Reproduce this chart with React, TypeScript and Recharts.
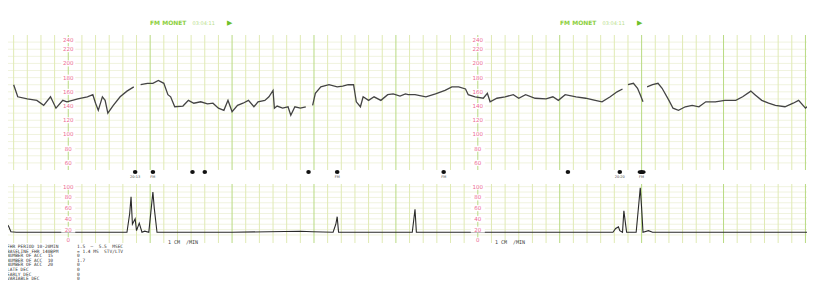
import React from "react";
import {
  ComposedChart,
  Line,
  Scatter,
  XAxis,
  YAxis,
  ReferenceLine,
} from "recharts";

// time in seconds from strip start
const fhrTrace: [number, number | null][] = [
  [20, 170], [23, 153], [30, 150], [37, 148], [42, 141], [47, 153], [51, 137],
  [56, 148], [59, 146], [67, 150], [74, 153], [78, 156], [80, 144], [82, 134],
  [85, 153], [87, 148], [89, 130], [93, 141], [98, 153], [103, 161], [108, 167],
  [110, null],
  [113, 170], [118, 172], [122, 172], [126, 176], [130, 172], [133, 156],
  [135, 153], [138, 139], [144, 140], [148, 148], [152, 144], [157, 146],
  [162, 143], [166, 144], [170, 137], [174, 134], [177, 148], [180, 132],
  [184, 141], [188, 144], [192, 148], [196, 139], [199, 146], [204, 148],
  [207, 153], [210, 162], [211, 137], [213, 140], [217, 137], [221, 139],
  [223, 127], [226, 139], [230, 137], [234, 139],
  [236, null],
  [239, 141], [241, 158], [245, 167], [251, 170], [257, 167], [261, 168],
  [265, 170], [269, 170], [271, 146], [274, 139], [276, 153], [280, 148],
  [284, 153], [289, 148], [294, 156], [298, 157], [303, 154], [307, 157],
  [309, 156], [314, 156], [322, 153], [329, 157], [336, 162], [341, 167],
  [346, 167], [351, 164], [353, 156], [358, 153], [364, 151], [367, 158],
  [369, 146], [374, 151], [380, 153], [386, 156], [390, 151], [395, 156],
  [402, 151], [410, 150], [415, 153], [419, 148], [424, 156], [432, 153],
  [439, 151], [446, 148], [451, 146], [457, 153], [462, 160], [466, 164],
  [468, null],
  [470, 170], [474, 172], [477, 165], [479, 156], [481, 146],
  [482, null],
  [484, 167], [488, 170], [492, 172], [495, 165], [500, 148], [503, 137],
  [507, 134], [512, 139], [517, 141], [522, 139], [527, 146], [534, 146],
  [541, 148], [549, 148], [554, 153], [560, 161], [563, 156], [568, 148],
  [573, 144], [578, 141], [585, 139], [591, 144], [595, 148], [600, 137],
  [604, 144], [607, 148],
];

const ucTrace: [number, number][] = [
  [16, 28], [18, 16], [22, 15], [60, 15], [100, 15], [103, 15], [105, 50],
  [106, 81], [107, 30], [109, 40], [110, 18], [112, 32], [114, 15], [116, 17],
  [119, 15], [120, 40], [122, 90], [123, 60], [125, 15], [180, 15], [230, 17],
  [239, 16], [254, 15], [256, 30], [257, 44], [258, 15], [312, 15], [314, 58],
  [315, 15], [400, 15], [459, 15], [461, 22], [463, 25], [464, 18], [466, 15],
  [467, 55], [469, 15], [476, 15], [478, 70], [479, 98], [480, 60], [481, 15],
  [485, 18], [488, 15], [540, 15], [607, 15],
];

const markTimes = [109, 122, 151, 160, 236, 257, 335, 426, 464, 480];
const markLabels = ["20:13", "FM", "", "", "", "FM", "FM", "", "20:20", "FM"];

const fhrTicks = [240, 220, 200, 180, 160, 140, 120, 100, 80, 60];
const ucTicks = [100, 80, 60, 40, 20, 0];
const labelTimes = [60, 360];

const reportLeft = [
  "FHR PERIOD 10-20MIN",
  "BASELINE FHR 140BPM",
  "NUMBER OF ACC  15",
  "NUMBER OF ACC  10",
  "NUMBER OF ACC  20",
  "LATE DEC",
  "EARLY DEC",
  "VARIABLE DEC",
];
const reportRight = [
  "1.5  \u2014  5.5  MSEC",
  "= 1.4 MS  STV/LTV",
  "0",
  "1.7",
  "0",
  "0",
  "0",
  "0",
];

const X_DOMAIN: [number, number] = [10, 607];
const minorX: number[] = [];
for (let s = 10; s <= 600; s += 10) minorX.push(s);
const majorX = minorX.filter((s) => s % 60 === 0);
const fhrGridY: number[] = [];
for (let v = 60; v <= 230; v += 10) fhrGridY.push(v);
const ucGridY = [10, 20, 30, 40, 50, 60, 70, 80, 90, 100];

const fhrData = fhrTrace.map(([t, v]) => ({ t, fhr: v }));
const ucData = ucTrace.map(([t, v]) => ({ t, uc: v }));
const markData = markTimes.map((t, i) => ({ t, y: 50, label: markLabels[i], wide: i === 9 }));
const fhrLabelData = labelTimes.flatMap((t) => fhrTicks.map((v) => ({ t, v })));
const ucLabelData = labelTimes.flatMap((t) => ucTicks.map((v) => ({ t, v })));

const MINOR = "#e0eab4";
const MAJOR = "#b8da82";
const HLINE = "#f0f3df";
const PINK = "#ec6a92";

const gridLines = (yLines: number[]) => [
  ...yLines.map((v) => (
    <ReferenceLine key={"h" + v} y={v} stroke={HLINE} strokeWidth={1} />
  )),
  ...minorX.map((s) => (
    <ReferenceLine key={"v" + s} x={s} stroke={majorX.includes(s) ? MAJOR : MINOR} strokeWidth={1} />
  )),
];

const tickLabel = (top: number) => (props: any) => {
  const { cx, payload } = props;
  const cy = Math.max(props.cy, top);
  return (
    <g>
      <rect x={cx - 7} y={cy - 3} width={14} height={6} fill="#fff" />
      <text x={cx} y={cy + 2} fontSize={5.5} fill={PINK} textAnchor="middle" fontFamily="DejaVu Sans">
        {payload.v}
      </text>
    </g>
  );
};

const marker = (props: any) => {
  const { cx, cy, payload } = props;
  return (
    <g>
      <ellipse cx={cx} cy={cy + 2} rx={payload.wide ? 4 : 2.3} ry={2} fill="#111" />
      {payload.label ? (
        <text x={cx} y={cy + 8} fontSize={3.5} fill="#444" textAnchor="middle" fontFamily="DejaVu Sans">
          {payload.label}
        </text>
      ) : null}
    </g>
  );
};

export default function App() {
  return (
    <div style={{ position: "relative", width: 815, height: 304, marginLeft: -8, marginTop: -8, background: "#fff", overflow: "hidden" }}>
      <div style={{ position: "absolute", left: 105, top: 7, width: 505, height: 1, background: "#ececec" }} />
      {[150, 560].map((x) => (
        <div key={x} style={{ position: "absolute", left: x, top: 19, fontFamily: "DejaVu Sans", fontSize: 6, color: "#8ccf3c", whiteSpace: "nowrap" }}>
          <b>FM MONET</b>
          <span style={{ marginLeft: 6, color: "#b8e08a", fontSize: 5 }}>03:04:11</span>
          <span style={{ marginLeft: 12, color: "#6cc02a", fontSize: 7 }}>{"\u25B6"}</span>
        </div>
      ))}

      <div style={{ position: "absolute", left: 0, top: 0 }}>
        <ComposedChart width={815} height={182} margin={{ top: 35, right: 0, bottom: 12, left: 0 }}>
          <XAxis dataKey="t" type="number" domain={X_DOMAIN} hide />
          <YAxis type="number" domain={[50, 240]} hide />
          {gridLines(fhrGridY)}
          <Scatter data={fhrLabelData} dataKey="v" shape={tickLabel(40)} isAnimationActive={false} />
          <Line
            data={fhrData}
            dataKey="fhr"
            type="linear"
            stroke="#444"
            strokeWidth={1.3}
            dot={false}
            connectNulls={false}
            isAnimationActive={false}
          />
          <Scatter data={markData} dataKey="y" shape={marker} isAnimationActive={false} />
        </ComposedChart>
      </div>

      <div style={{ position: "absolute", left: 0, top: 176 }}>
        <ComposedChart width={815} height={80} margin={{ top: 8, right: 0, bottom: 13, left: 0 }}>
          <XAxis dataKey="t" type="number" domain={X_DOMAIN} hide />
          <YAxis type="number" domain={[-5, 105]} hide />
          {gridLines(ucGridY)}
          <Scatter data={ucLabelData} dataKey="v" shape={tickLabel(0)} isAnimationActive={false} />
          <Line
            data={ucData}
            dataKey="uc"
            type="linear"
            stroke="#2a2a2a"
            strokeWidth={1.1}
            dot={false}
            isAnimationActive={false}
          />
        </ComposedChart>
      </div>

      {[[168, "1 CM  /MIN"], [495, "1 CM  /MIN"]].map(([x, s]) => (
        <div key={x as number} style={{ position: "absolute", left: x as number, top: 239, fontFamily: "DejaVu Sans Mono", fontSize: 5, color: "#444", whiteSpace: "pre" }}>
          {s}
        </div>
      ))}

      <div style={{ position: "absolute", left: 7, top: 245, fontFamily: "DejaVu Sans Mono", fontSize: 4.5, lineHeight: "4.6px", color: "#333", whiteSpace: "pre" }}>
        {reportLeft.map((s, i) => (
          <div key={i}>{s}</div>
        ))}
      </div>
      <div style={{ position: "absolute", left: 77, top: 245, fontFamily: "DejaVu Sans Mono", fontSize: 4.5, lineHeight: "4.6px", color: "#333", whiteSpace: "pre" }}>
        {reportRight.map((s, i) => (
          <div key={i}>{s}</div>
        ))}
      </div>
    </div>
  );
}
